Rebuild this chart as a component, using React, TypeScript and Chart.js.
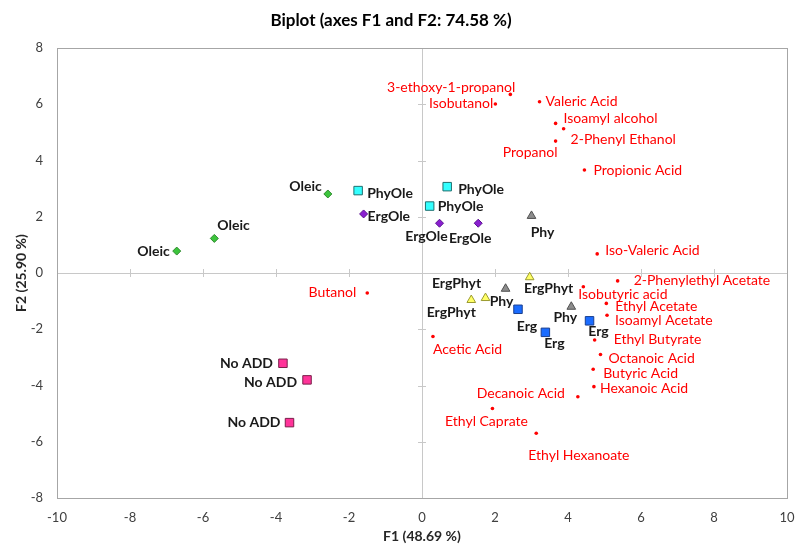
import { useEffect, useRef } from "react";
import { Chart, registerables } from "chart.js";

Chart.register(...registerables);

// ---- Variables (active variables, red dots) ----
const variableNames = [
  "3-ethoxy-1-propanol", "Isobutanol", "Valeric Acid", "Isoamyl alcohol", "2-Phenyl Ethanol",
  "Propanol", "Propionic Acid", "Iso-Valeric Acid", "2-Phenylethyl Acetate", "Isobutyric acid",
  "Ethyl Acetate", "Isoamyl Acetate", "Ethyl Butyrate", "Acetic Acid", "Octanoic Acid",
  "Butyric Acid", "Hexanoic Acid", "Decanoic Acid", "Ethyl Caprate", "Ethyl Hexanoate", "Butanol",
];
const variableF1 = [2.42, 2.01, 3.22, 3.66, 3.88, 3.66, 4.45, 4.80, 5.36, 4.42, 5.05, 5.07, 4.73, 0.30, 4.89, 4.69, 4.71, 4.27, 1.93, 3.13, -1.50];
const variableF2 = [6.35, 6.01, 6.09, 5.32, 5.13, 4.69, 3.66, 0.68, -0.28, -0.49, -1.08, -1.50, -2.38, -2.26, -2.90, -3.42, -4.04, -4.40, -4.82, -5.70, -0.71];

// ---- Observations (treatments) ----
const oleicF1 = [-6.72, -5.69, -2.58];
const oleicF2 = [0.78, 1.23, 2.81];
const phyOleF1 = [-1.75, 0.69, 0.21];
const phyOleF2 = [2.93, 3.07, 2.38];
const ergOleF1 = [-1.60, 0.48, 1.54];
const ergOleF2 = [2.10, 1.77, 1.77];
const phyF1 = [3.00, 2.29, 4.09];
const phyF2 = [2.03, -0.56, -1.20];
const ergPhytF1 = [2.95, 1.35, 1.74];
const ergPhytF2 = [-0.15, -0.96, -0.89];
const ergF1 = [2.63, 3.38, 4.59];
const ergF2 = [-1.29, -2.11, -1.70];
const noAddF1 = [-3.81, -3.15, -3.63];
const noAddF2 = [-3.21, -3.80, -5.32];

const groupNames = ["Oleic", "PhyOle", "ErgOle", "Phy", "ErgPhyt", "Erg", "No ADD"];

// Axis ticks
const axisMin = { x: -10, y: -8 };
const axisMax = { x: 10, y: 8 };
const tickStep = 2;

const chartTitle = "Biplot (axes F1 and F2: 74.58 %)";
const xTitle = "F1 (48.69 %)";
const yTitle = "F2 (25.90 %)";

// Label placement: [anchor, dx, dy] in pixels relative to the marker
type Place = [string, number, number];
const variablePlacement: Place[] = [
  ["r", 5, -7], ["r", -2, 0], ["l", 6, 0], ["l", 8, -5], ["l", 7, 11],
  ["r", 2, 11], ["l", 9, 0], ["l", 8, -3], ["l", 16, 0], ["l", -5, 8],
  ["l", 9, 3], ["l", 8, 5], ["l", 19, 0], ["l", 0, 13], ["l", 8, 4],
  ["l", 10, 4], ["l", 6, 2], ["r", -13, -3], ["c", -6, 13], ["l", -8, 22], ["r", -11, 0],
];
const groupPlacement: Place[][] = [
  [["r", -7, 0], ["l", 3, -13], ["r", -6, -7]],
  [["l", 9, 3], ["l", 11, 3], ["l", 8, 0]],
  [["l", 4, 3], ["c", -13, 13], ["c", -8, 15]],
  [["c", 11, 17], ["c", -4, 13], ["c", -6, 11]],
  [["c", 19, 11], ["c", -20, 12], ["c", -29, -15]],
  [["c", 9, 17], ["c", 9, 11], ["c", 9, 11]],
  [["r", -10, 0], ["r", -10, 3], ["r", -9, 0]],
];

const FONT = "Lato, 'Open Sans', sans-serif";

const toPoints = (xs: number[], ys: number[]) => xs.map((x, i) => ({ x, y: ys[i] }));

// Frame, zero axes with small cross ticks
const framePlugin = {
  id: "biplotFrame",
  beforeDatasetsDraw(chart: any) {
    const { ctx, chartArea: a, scales } = chart;
    const x0 = scales.x.getPixelForValue(0);
    const y0 = scales.y.getPixelForValue(0);
    ctx.save();
    ctx.lineWidth = 1;
    ctx.strokeStyle = "#c8c8c8";
    ctx.beginPath();
    ctx.moveTo(Math.round(x0) + 0.5, a.top);
    ctx.lineTo(Math.round(x0) + 0.5, a.bottom);
    ctx.moveTo(a.left, Math.round(y0) + 0.5);
    ctx.lineTo(a.right, Math.round(y0) + 0.5);
    for (let v = axisMin.x + tickStep; v < axisMax.x; v += tickStep) {
      const px = Math.round(scales.x.getPixelForValue(v)) + 0.5;
      ctx.moveTo(px, y0 - 4);
      ctx.lineTo(px, y0 + 4);
    }
    for (let v = axisMin.y + tickStep; v < axisMax.y; v += tickStep) {
      const py = Math.round(scales.y.getPixelForValue(v)) + 0.5;
      ctx.moveTo(x0 - 4, py);
      ctx.lineTo(x0 + 4, py);
    }
    ctx.stroke();
    ctx.strokeStyle = "#a6a6a6";
    ctx.strokeRect(Math.round(a.left) + 0.5, Math.round(a.top) + 0.5, Math.round(a.right - a.left), Math.round(a.bottom - a.top));
    ctx.restore();
  },
};

// Point labels and chart title
const labelPlugin = {
  id: "biplotLabels",
  afterDatasetsDraw(chart: any) {
    const { ctx } = chart;
    ctx.save();
    ctx.textBaseline = "middle";
    const drawLabel = (text: string, x: number, y: number, p: Place) => {
      ctx.textAlign = p[0] === "l" ? "left" : p[0] === "r" ? "right" : "center";
      ctx.fillText(text, x + p[1], y + p[2]);
    };
    chart.data.datasets.forEach((ds: any, di: number) => {
      const meta = chart.getDatasetMeta(di);
      if (ds.kind === "variable") {
        ctx.font = `14px ${FONT}`;
        ctx.fillStyle = "#ff0000";
        meta.data.forEach((el: any, j: number) => drawLabel(variableNames[j], el.x, el.y, variablePlacement[j]));
      } else {
        ctx.font = `bold 14px ${FONT}`;
        ctx.fillStyle = "#1a1a1a";
        meta.data.forEach((el: any, j: number) => drawLabel(groupNames[ds.group], el.x, el.y, groupPlacement[ds.group][j]));
      }
    });
    ctx.font = `bold 17px ${FONT}`;
    ctx.fillStyle = "#000000";
    ctx.textAlign = "center";
    ctx.fillText(chartTitle, 391, 21);
    ctx.restore();
  },
};

export default function App() {
  const canvasRef = useRef<HTMLCanvasElement | null>(null);

  useEffect(() => {
    document.body.style.margin = "0";
    const canvas = canvasRef.current;
    if (!canvas) return;

    const group = (g: number, xs: number[], ys: number[], style: string, radius: number, fill: string, border: string) => ({
      group: g,
      kind: "obs",
      label: groupNames[g],
      data: toPoints(xs, ys),
      pointStyle: style,
      pointRadius: radius,
      pointBackgroundColor: fill,
      pointBorderColor: border,
      pointBorderWidth: 1,
    });

    const chart = new Chart(canvas, {
      type: "scatter",
      data: {
        datasets: [
          {
            kind: "variable",
            label: "Variables",
            data: toPoints(variableF1, variableF2),
            pointStyle: "circle",
            pointRadius: 1.8,
            pointBackgroundColor: "#ff0000",
            pointBorderColor: "#ff0000",
            pointBorderWidth: 0,
          } as any,
          group(0, oleicF1, oleicF2, "rectRot", 4, "#3cc43c", "#2e8b2e"),
          group(1, phyOleF1, phyOleF2, "rect", 6, "#33ffff", "#1f6f6f"),
          group(2, ergOleF1, ergOleF2, "rectRot", 4, "#8a1fd0", "#5a1090"),
          group(3, phyF1, phyF2, "triangle", 5, "#8c8c8c", "#505050"),
          group(4, ergPhytF1, ergPhytF2, "triangle", 5, "#ffff66", "#9a9a30"),
          group(5, ergF1, ergF2, "rect", 6, "#1a6cff", "#1a3f8f"),
          group(6, noAddF1, noAddF2, "rect", 6, "#ff3399", "#7a1f4a"),
        ] as any,
      },
      options: {
        animation: false,
        responsive: false,
        events: [],
        layout: { padding: { left: 0, right: 9, top: 48, bottom: 0 } },
        plugins: {
          legend: { display: false },
          tooltip: { enabled: false },
          title: { display: false },
        },
        scales: {
          x: {
            type: "linear",
            min: axisMin.x,
            max: axisMax.x,
            grid: { display: false, drawTicks: false },
            border: { display: false },
            ticks: { stepSize: tickStep, padding: 12, color: "#404040", font: { family: FONT, size: 13 } },
            title: { display: true, text: xTitle, color: "#262626", font: { family: FONT, size: 14, weight: "bold" }, padding: { top: 0, bottom: 1 } },
            afterFit: (s: any) => {
              s.height = 48;
              s.paddingLeft = 0;
              s.paddingRight = 0;
            },
          },
          y: {
            type: "linear",
            min: axisMin.y,
            max: axisMax.y,
            grid: { display: false, drawTicks: false },
            border: { display: false },
            ticks: { stepSize: tickStep, padding: 14, color: "#404040", font: { family: FONT, size: 13 } },
            title: { display: true, text: yTitle, color: "#262626", font: { family: FONT, size: 14, weight: "bold" }, padding: { top: 13, bottom: 0 } },
            afterFit: (s: any) => {
              s.width = 57;
              s.paddingTop = 0;
              s.paddingBottom = 0;
            },
          },
        },
      } as any,
      plugins: [framePlugin, labelPlugin],
    });

    return () => chart.destroy();
  }, []);

  return <canvas ref={canvasRef} width={796} height={546} style={{ display: "block" }} />;
}
